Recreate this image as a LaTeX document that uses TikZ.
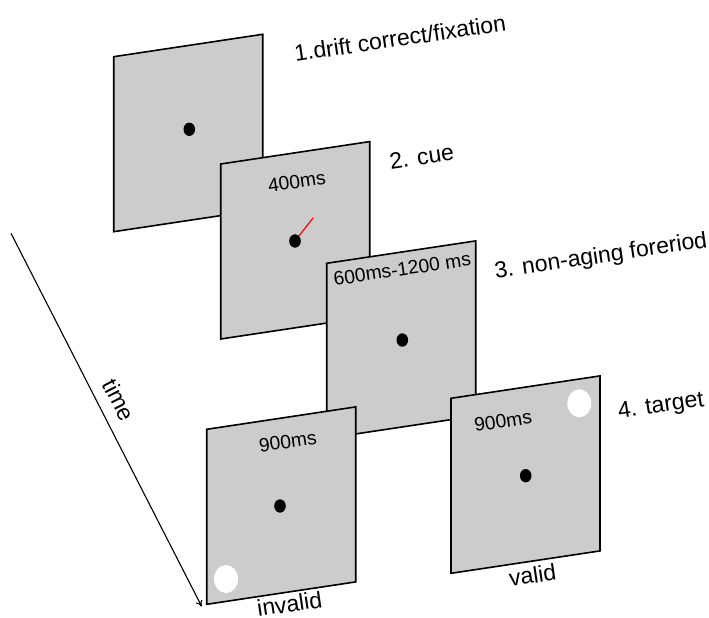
\documentclass[tikz,border=0pt]{standalone}
\usepackage{fontspec}
\setmainfont{Liberation Sans}
\usetikzlibrary{shapes.geometric,arrows.meta}
\definecolor{panelgray}{HTML}{CCCCCC}
\begin{document}
\begin{tikzpicture}[x=1pt,y=-1pt,
  panel/.style={draw=black, line width=1.6pt, fill=panelgray, line join=miter},
  paneltext/.style={font=\fontsize{19.3}{22}\selectfont, inner sep=0pt, rotate=8.4},
  label/.style={font=\fontsize{23}{26}\selectfont, inner sep=0pt, rotate=8.4},
  dot/.style={ellipse, fill=black, minimum width=11.6pt, minimum height=13.4pt, inner sep=0pt},
  target/.style={ellipse, fill=white, minimum width=24pt, minimum height=28pt, inner sep=0pt},
  cue/.style={draw=red, line width=1.2pt},
  timearrow/.style={draw=black, line width=1.1pt, -{To[length=6pt,width=7pt]}}]
\useasboundingbox (0,0) rectangle (709,618);

% panel 1
\path[panel] (113.7,56.7) coordinate (p1) -- ++(149,-22.4) -- ++(0,175) -- ++(-149,22.4) -- cycle;
\node[dot] (d1) at (189.3,129.3) {};
% panel 2
\path[panel] (220.7,164) coordinate (p2) -- ++(149,-22.4) -- ++(0,175) -- ++(-149,22.4) -- cycle;
\node[paneltext] (t2) at (296.7,181.5) {400ms};
\coordinate (cueend) at (313.3,217.7);
\draw[cue] (295,241) -- (cueend);
\node[dot] (d2) at (295,241) {};
% panel 3
\path[panel] (326.7,263.3) coordinate (p3) -- ++(149,-22.4) -- ++(0,175) -- ++(-149,22.4) -- cycle;
\node[paneltext] (t3) at (402.2,269) {600ms-1200 ms};
\node[dot] (d3) at (402.3,340) {};
% panel 4 invalid
\path[panel] (206.7,429.3) coordinate (p4) -- ++(149,-22.4) -- ++(0,175) -- ++(-149,22.4) -- cycle;
\node[paneltext] (t4) at (287.8,441.5) {900ms};
\node[dot] (d4) at (280,506) {};
\node[target] (w4) at (226,579) {};
% panel 5 valid
\path[panel] (451,398.3) coordinate (p5) -- ++(149,-22.4) -- ++(0,175) -- ++(-149,22.4) -- cycle;
\node[paneltext] (t5) at (503,421) {900ms};
\node[dot] (d5) at (525.7,475.7) {};
\node[target] (w5) at (579.3,403.3) {};

% labels
\node[label] (l1) at (400,38) {1.drift correct/fixation};
\node[label] (l2) at (421.7,157) {2. cue};
\node[label] (l3) at (601,257) {3. non-aging foreriod};
\node[label] (l4) at (661,407) {4. target};
\node[label] (l5) at (289.5,603.8) {invalid};
\node[label] (l6) at (532.5,575) {valid};

% time arrow
\coordinate (ts) at (11,233.3);
\coordinate (te) at (201.7,606.5);
\draw[timearrow] (ts) -- (te);
\node[font=\fontsize{23}{26}\selectfont, inner sep=0pt, rotate=-62.8] (lt) at (119,400) {time};
\end{tikzpicture}
\end{document}
